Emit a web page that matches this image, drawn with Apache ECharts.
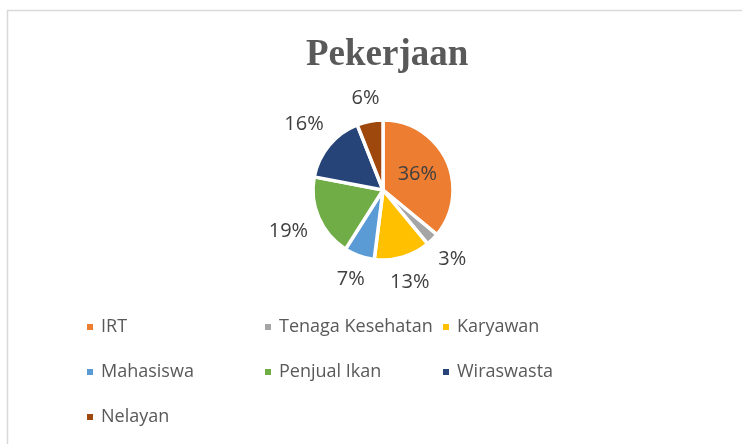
<!DOCTYPE html>
<html><head><meta charset="utf-8">
<script src="https://cdn.jsdelivr.net/npm/echarts@6/dist/echarts.min.js"></script>
<style>html,body{margin:0;padding:0;background:#fff}#c{width:742px;height:444px}</style>
</head><body><div id="c"></div>
<script>
const titleText = 'Pekerjaan';
const categories = ['IRT', 'Tenaga Kesehatan', 'Karyawan', 'Mahasiswa', 'Penjual Ikan', 'Wiraswasta', 'Nelayan'];
const values = [36, 3, 13, 7, 19, 16, 6];
const colors = ['#ED7D31', '#A5A5A5', '#FFC000', '#5B9BD5', '#70AD47', '#264478', '#9E480E'];

const CX = 383, CY = 190, R = 70;
const total = values.reduce((a, b) => a + b, 0);
const midAngles = [];
{ let acc = 0; for (const v of values) { midAngles.push((acc + v / 2) / total * 2 * Math.PI); acc += v; } }

const chart = echarts.init(document.getElementById('c'));
const legendCols = [[0, 3, 6], [1, 4], [2, 5]];
const legendLefts = [85, 263, 441];
const legends = legendCols.map((idx, i) => ({
  orient: 'vertical', left: legendLefts[i], top: 317, padding: 0,
  itemGap: 25, itemWidth: 8, itemHeight: 8, icon: 'rect',
  data: idx.map(k => categories[k]),
  textStyle: { fontFamily: 'Open Sans', fontSize: 18, color: '#595959', lineHeight: 20, padding: [0, 0, 0, 2] }
}));

chart.setOption({
  animation: false,
  color: colors,
  title: {
    text: titleText, left: 301, top: 32,
    textStyle: { fontFamily: 'Liberation Serif', fontWeight: 'bold', fontSize: 37, color: '#595959' }
  },
  legend: legends,
  graphic: [{
    type: 'rect', shape: { x: 7.5, y: 10.5, width: 900, height: 600 },
    style: { fill: 'none', stroke: '#D9D9D9', lineWidth: 1.5 }, silent: true
  }],
  series: [{
    type: 'pie', center: [CX, CY], radius: R, startAngle: 90, clockwise: true,
    avoidLabelOverlap: false,
    itemStyle: { borderColor: '#fff', borderWidth: 3.5 },
    label: {
      show: true, position: 'outside', formatter: '{d}%',
      fontFamily: 'Open Sans', fontSize: 20, color: '#404040'
    },
    labelLine: { show: false },
    labelLayout: function (p) {
      if (p.dataIndex === 0) return {};
      const a = midAngles[p.dataIndex];
      const s = Math.sin(a), c = Math.cos(a);
      const w = p.labelRect.width, h = p.labelRect.height;
      const d = R + 11 + Math.abs(s) * w / 2 + Math.abs(c) * h / 2;
      return { x: CX + d * s, y: CY - d * c, align: 'center', verticalAlign: 'middle' };
    },
    data: categories.map((n, i) => ({
      name: n, value: values[i],
      label: i === 0 ? { position: 'inside' } : undefined
    }))
  }]
});
</script></body></html>
